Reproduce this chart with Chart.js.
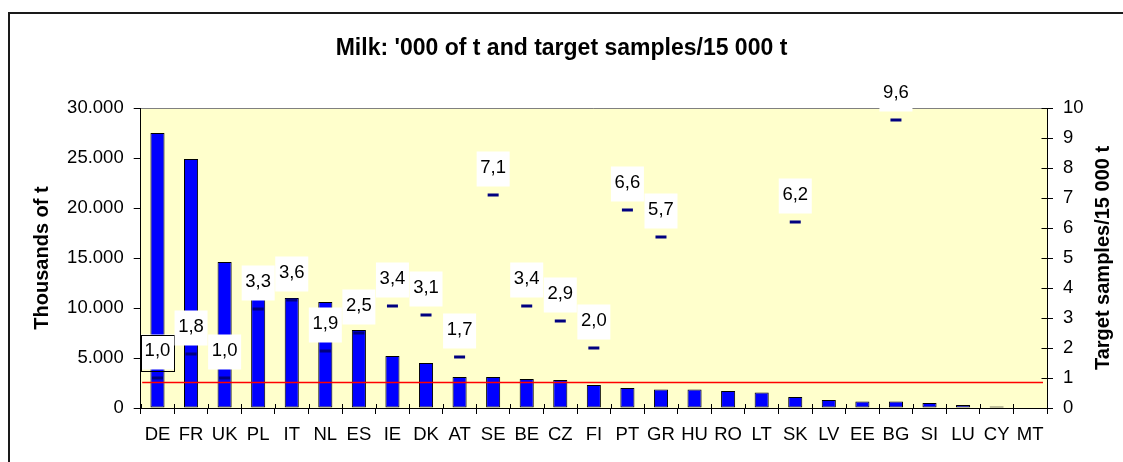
<!DOCTYPE html>
<html><head><meta charset="utf-8">
<script src="https://cdn.jsdelivr.net/npm/chart.js@4/dist/chart.umd.min.js"></script>
<style>
html,body{margin:0;padding:0;background:#fff;overflow:hidden;}
#wrap{position:relative;width:1123px;height:462px;overflow:hidden;}
#frame{position:absolute;left:8px;top:12px;width:1300px;height:700px;border-top:2px solid #1a1a1a;border-left:2px solid #1a1a1a;}
canvas{position:absolute;left:0;top:0;}
</style></head><body>
<div id="wrap"><div id="frame"></div><canvas id="c" width="1123" height="462"></canvas></div>
<script>
const categories = ['DE','FR','UK','PL','IT','NL','ES','IE','DK','AT','SE','BE','CZ','FI','PT','GR','HU','RO','LT','SK','LV','EE','BG','SI','LU','CY','MT'];
const milkThousandT = [27500,24900,14600,11500,11000,10600,7800,5200,4500,3100,3100,2900,2800,2300,2000,1850,1850,1700,1550,1100,800,650,650,500,300,150,0];
const targetSamples = [1.0,1.8,1.0,3.3,3.6,1.9,2.5,3.4,3.1,1.7,7.1,3.4,2.9,2.0,6.6,5.7,null,null,null,6.2,null,null,9.6,null,null,null,null];
const leftTicks = [0,5000,10000,15000,20000,25000,30000];
const rightTicks = [0,1,2,3,4,5,6,7,8,9,10];
const referenceLevel = 2550;
const chartTitle = "Milk: '000 of t and target samples/15 000 t";
const leftAxisTitle = 'Thousands of t';
const rightAxisTitle = 'Target samples/15 000 t';

const FONT = "'Liberation Sans', Arial, sans-serif";
const fmtThousands = v => String(v).replace(/\B(?=(\d{3})+(?!\d))/g, '.');
const fmtDec = v => v.toFixed(1).replace('.', ',');

const deco = {
  id: 'deco',
  beforeDraw(chart) {
    const {ctx, chartArea: a} = chart;
    ctx.save();
    ctx.fillStyle = '#FFFFCC';
    ctx.fillRect(a.left, a.top, a.right - a.left, a.bottom - a.top);
    ctx.strokeStyle = '#808080';
    ctx.lineWidth = 1;
    const ty = Math.round(a.top) + 0.5;
    ctx.beginPath(); ctx.moveTo(a.left, ty); ctx.lineTo(a.right, ty); ctx.stroke();
    ctx.restore();
  },
  afterDatasetsDraw(chart) {
    const {ctx, chartArea: a, scales} = chart;
    ctx.save();
    const ry = scales.y.getPixelForValue(referenceLevel);
    ctx.strokeStyle = '#FF0000';
    ctx.lineWidth = 1.3;
    ctx.beginPath(); ctx.moveTo(a.left + 1.5, ry); ctx.lineTo(a.right - 4, ry); ctx.stroke();
    ctx.strokeStyle = '#000';
    ctx.lineWidth = 1;
    ctx.beginPath();
    const rx = Math.round(a.right) + 0.5;
    scales.y1.ticks.forEach(t => {
      const py = Math.round(scales.y1.getPixelForValue(t.value)) + 0.5;
      ctx.moveTo(rx - 6, py); ctx.lineTo(rx, py);
    });
    const n = categories.length;
    const xs = scales.x;
    const by = Math.round(a.bottom);
    for (let i = 0; i <= n; i++) {
      const px = Math.round(xs.left + (xs.right - xs.left) * i / n) + 0.5;
      ctx.moveTo(px, by - 4); ctx.lineTo(px, by);
    }
    ctx.stroke();
    const meta = chart.getDatasetMeta(1);
    ctx.font = `18.5px ${FONT}`;
    ctx.textAlign = 'center';
    ctx.textBaseline = 'middle';
    meta.data.forEach((pt, i) => {
      const v = targetSamples[i];
      if (v === null || v === undefined) return;
      const w = 33, h = 35, gap = 8.5;
      const bx = pt.x - w / 2, byy = pt.y - gap - h;
      ctx.fillStyle = '#fff';
      ctx.fillRect(bx, byy, w, h);
      if (i === 0) {
        ctx.strokeStyle = '#000';
        ctx.strokeRect(Math.round(bx) + 0.5, Math.round(byy) + 0.5, w, h + 1);
      }
      ctx.fillStyle = '#000';
      ctx.fillText(fmtDec(v), pt.x, byy + h / 2 - 1);
    });
    ctx.translate(scales.y1.right - 20, (a.top + a.bottom) / 2);
    ctx.rotate(-Math.PI / 2);
    ctx.font = `bold 20px ${FONT}`;
    ctx.fillStyle = '#000';
    ctx.fillText(rightAxisTitle, 0, 0);
    ctx.restore();
  }
};

new Chart(document.getElementById('c'), {
  data: {
    labels: categories,
    datasets: [
      {
        type: 'bar',
        label: "Milk '000 t",
        data: milkThousandT,
        yAxisID: 'y',
        backgroundColor: '#0000FF',
        borderColor: '#000',
        borderWidth: 1,
        borderSkipped: false,
        barPercentage: 0.42,
        categoryPercentage: 1.0,
        order: 2
      },
      {
        type: 'line',
        label: 'Target samples/15 000 t',
        data: targetSamples,
        yAxisID: 'y1',
        showLine: false,
        pointStyle: 'line',
        pointRadius: 5.5,
        pointHoverRadius: 5.5,
        pointBorderWidth: 3,
        pointBorderColor: '#000080',
        pointBackgroundColor: '#000080',
        borderColor: '#000080',
        order: 1
      }
    ]
  },
  options: {
    responsive: false,
    animation: false,
    devicePixelRatio: 1,
    layout: { padding: 0 },
    plugins: {
      legend: { display: false },
      tooltip: { enabled: false },
      title: {
        display: true,
        text: chartTitle,
        color: '#000',
        font: { family: FONT, size: 23, weight: 'bold', lineHeight: 1.2 },
        padding: { top: 34.7, bottom: 45.7 }
      }
    },
    scales: {
      x: {
        type: 'category',
        offset: true,
        grid: { display: true, drawOnChartArea: false, drawTicks: true, tickLength: 6, tickColor: '#000', offset: true },
        border: { display: true, color: '#000', width: 1 },
        ticks: { color: '#000', font: { family: FONT, size: 18.5 }, padding: 10, maxRotation: 0, autoSkip: false },
        afterFit: s => { s.height = 54; }
      },
      y: {
        type: 'linear',
        position: 'left',
        min: 0, max: 30000,
        afterBuildTicks: s => { s.ticks = leftTicks.map(v => ({ value: v })); },
        grid: { display: true, drawOnChartArea: false, drawTicks: true, tickLength: 7, tickColor: '#000' },
        border: { display: true, color: '#000', width: 1 },
        ticks: { color: '#000', font: { family: FONT, size: 18.5 }, padding: 10, callback: v => fmtThousands(v) },
        title: { display: true, text: leftAxisTitle, color: '#000', font: { family: FONT, size: 20, weight: 'bold', lineHeight: 1.2 }, padding: { top: 30.5, bottom: 0 } },
        afterFit: s => { s.width = 140.7; }
      },
      y1: {
        type: 'linear',
        position: 'right',
        min: 0, max: 10,
        afterBuildTicks: s => { s.ticks = rightTicks.map(v => ({ value: v })); },
        grid: { display: true, drawOnChartArea: false, drawTicks: true, tickLength: 6, tickColor: '#000' },
        border: { display: true, color: '#000', width: 1 },
        ticks: { color: '#000', font: { family: FONT, size: 18.5 }, padding: 10, callback: v => String(v) },
        afterFit: s => { s.width = 76; }
      }
    }
  },
  plugins: [deco]
});
</script>
</body></html>
